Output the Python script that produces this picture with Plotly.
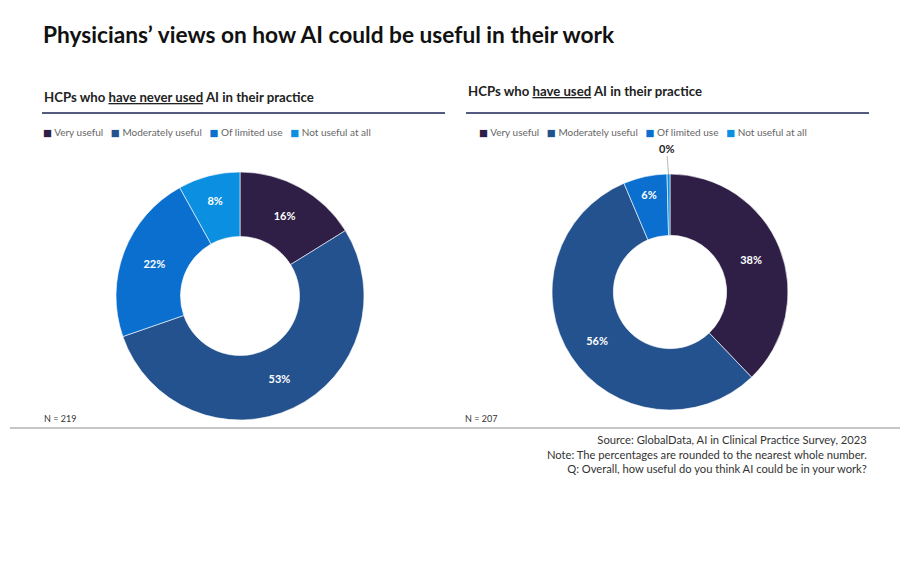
import math
import plotly.graph_objects as go

categories = ['Very useful', 'Moderately useful', 'Of limited use', 'Not useful at all']
never_used = [16, 53, 22, 8]
have_used = [38, 56, 6, 0.4]
never_labels = ['16%', '53%', '22%', '8%']
used_labels = ['38%', '56%', '6%', '0%']
colors = ['#2F1F47', '#23528F', '#0A6FCE', '#0B8FE0']

W, H = 905, 563
FONT = 'Lato'


def px(x):
    return x / W


def py(y):
    return 1 - y / H


# pie boxes in pixels (left, top, right, bottom)
left_box = (116, 172, 364, 420)
right_box = (552, 174, 788, 410)

fig = go.Figure()

fig.add_trace(go.Pie(
    labels=categories,
    values=never_used,
    text=never_labels,
    textinfo='text',
    textposition='inside',
    insidetextorientation='horizontal',
    textfont=dict(color='white', size=11, family=FONT, weight='bold'),
    hole=0.48,
    sort=False,
    direction='clockwise',
    rotation=0,
    marker=dict(colors=colors, line=dict(color='white', width=0.6)),
    domain=dict(x=[px(left_box[0]), px(left_box[2])], y=[py(left_box[3]), py(left_box[1])]),
    showlegend=False,
    hoverinfo='label+text',
))

# the tiny last slice gets its label outside with a leader line
right_text = used_labels[:-1] + ['']
fig.add_trace(go.Pie(
    labels=categories,
    values=have_used,
    text=right_text,
    textinfo='text',
    textposition='inside',
    insidetextorientation='horizontal',
    textfont=dict(color='white', size=11, family=FONT, weight='bold'),
    hole=0.48,
    sort=False,
    direction='clockwise',
    rotation=0,
    marker=dict(colors=colors, line=dict(color='white', width=0.6)),
    domain=dict(x=[px(right_box[0]), px(right_box[2])], y=[py(right_box[3]), py(right_box[1])]),
    showlegend=False,
    hoverinfo='label',
))

# position of the small slice's outer edge
cx = (right_box[0] + right_box[2]) / 2
cy = (right_box[1] + right_box[3]) / 2
r = (right_box[2] - right_box[0]) / 2
total = sum(have_used)
mid = (sum(have_used[:-1]) + have_used[-1] / 2) / total * 2 * math.pi
tip_x = cx + r * math.sin(mid)
tip_y = cy - r * math.cos(mid)


def legend_text():
    parts = []
    for name, c in zip(categories, colors):
        parts.append(f"<span style='color:{c};font-family:DejaVu Sans;font-size:9.5px'>■</span> {name}")
    return '&nbsp;&nbsp;&nbsp;'.join(parts)


fig.update_layout(
    width=W, height=H,
    margin=dict(l=0, r=0, t=0, b=0),
    paper_bgcolor='white',
    font=dict(family=FONT),
    shapes=[
        dict(type='line', xref='paper', yref='paper', x0=px(42), x1=px(445), y0=py(113), y1=py(113),
             line=dict(color='#1B2557', width=1.3)),
        dict(type='line', xref='paper', yref='paper', x0=px(466), x1=px(869), y0=py(113), y1=py(113),
             line=dict(color='#1B2557', width=1.3)),
        dict(type='line', xref='paper', yref='paper', x0=px(10), x1=px(900), y0=py(428), y1=py(428),
             line=dict(color='#8C8C8C', width=1)),
    ],
    annotations=[
        dict(text='<b>Physicians’ views on how AI could be useful in their work</b>', x=px(41), y=py(35),
             xref='paper', yref='paper', xanchor='left', yanchor='middle', showarrow=False,
             font=dict(size=22.7, color='#111111', family=FONT)),
        dict(text="<b>HCPs who <span style='text-decoration:underline'>have never used</span> AI in their practice</b>",
             x=px(42), y=py(97), xref='paper', yref='paper', xanchor='left', yanchor='middle', showarrow=False,
             font=dict(size=13.2, color='#222222', family=FONT)),
        dict(text="<b>HCPs who <span style='text-decoration:underline'>have used</span> AI in their practice</b>",
             x=px(466), y=py(91), xref='paper', yref='paper', xanchor='left', yanchor='middle', showarrow=False,
             font=dict(size=13.2, color='#222222', family=FONT)),
        dict(text=legend_text(), x=px(41), y=py(132), xref='paper', yref='paper', xanchor='left',
             yanchor='middle', showarrow=False, font=dict(size=10, color='#666666', family=FONT)),
        dict(text=legend_text(), x=px(477), y=py(132), xref='paper', yref='paper', xanchor='left',
             yanchor='middle', showarrow=False, font=dict(size=10, color='#666666', family=FONT)),
        dict(text='<b>' + used_labels[-1] + '</b>', x=px(tip_x), y=py(tip_y), xref='paper', yref='paper',
             showarrow=True, arrowhead=0, arrowwidth=0.8, arrowcolor='#A6A6A6', ax=-2, ay=-26,
             font=dict(size=11, color='#222222', family=FONT)),
        dict(text='N = 219', x=px(42), y=py(418), xref='paper', yref='paper', xanchor='left', yanchor='middle',
             showarrow=False, font=dict(size=9, color='#333333', family=FONT)),
        dict(text='N = 207', x=px(463), y=py(418), xref='paper', yref='paper', xanchor='left', yanchor='middle',
             showarrow=False, font=dict(size=9, color='#333333', family=FONT)),
        dict(text='Source: GlobalData, AI in Clinical Practice Survey, 2023<br>'
                  'Note: The percentages are rounded to the nearest whole number.<br>'
                  'Q: Overall, how useful do you think AI could be in your work?',
             x=px(869), y=py(431), xref='paper', yref='paper', xanchor='right', yanchor='top', align='right',
             showarrow=False, font=dict(size=11.2, color='#333333', family=FONT)),
    ],
)

fig.write_html('out.html', config={'displayModeBar': False},
               post_script="document.body.style.margin='0px';")
